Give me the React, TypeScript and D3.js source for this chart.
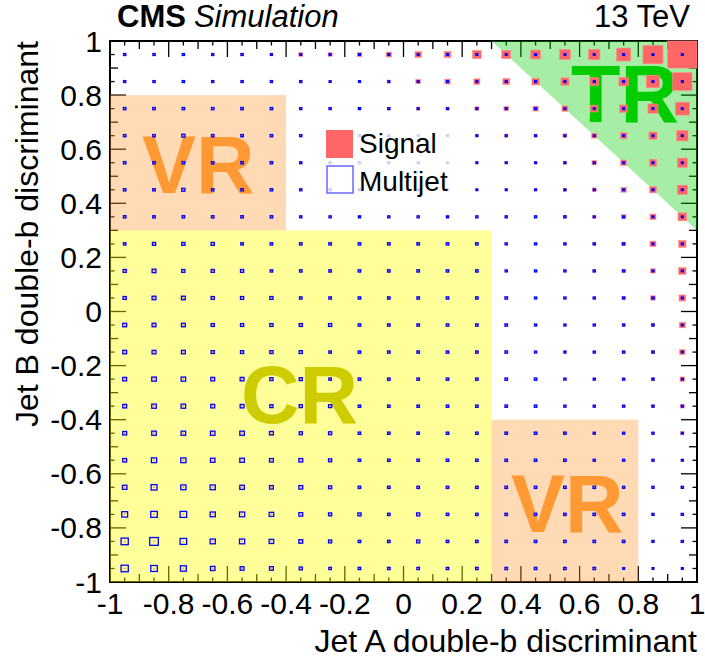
import React from "react";
import * as d3 from "d3";

// Bin centres (20 x 20 bins of width 0.1 between -1 and 1)
const xCenters = [-0.95, -0.85, -0.75, -0.65, -0.55, -0.45, -0.35, -0.25, -0.15, -0.05, 0.05, 0.15, 0.25, 0.35, 0.45, 0.55, 0.65, 0.75, 0.85, 0.95];
// rows listed from top (y = 0.95) to bottom (y = -0.95)
const yCenters = [0.95, 0.85, 0.75, 0.65, 0.55, 0.45, 0.35, 0.25, 0.15, 0.05, -0.05, -0.15, -0.25, -0.35, -0.45, -0.55, -0.65, -0.75, -0.85, -0.95];

const xTickLabels = [-1, -0.8, -0.6, -0.4, -0.2, 0, 0.2, 0.4, 0.6, 0.8, 1];
const yTickLabels = [-1, -0.8, -0.6, -0.4, -0.2, 0, 0.2, 0.4, 0.6, 0.8, 1];

// Signal bin contents (arbitrary units), rows top -> bottom, columns left -> right
const signal = [
  [5, 5, 5, 6, 7, 9, 12, 12, 14, 16, 19, 20, 26, 27, 29, 32, 34, 42, 60, 88],
  [4, 4, 4, 5, 5, 6, 6, 7, 8, 10, 14, 16, 18, 20, 22, 24, 26, 28, 40, 58],
  [3, 3, 3, 3, 4, 4, 4, 5, 5, 6, 10, 10, 12, 14, 16, 18, 22, 24, 30, 42],
  [3, 3, 3, 3, 3, 3, 3, 3, 4, 4, 6, 6, 8, 10, 10, 12, 16, 20, 24, 34],
  [3, 3, 3, 3, 3, 3, 3, 3, 3, 3, 4, 4, 6, 8, 8, 10, 14, 18, 22, 30],
  [3, 3, 3, 3, 3, 3, 3, 3, 3, 3, 4, 4, 5, 6, 8, 10, 12, 16, 20, 30],
  [3, 3, 3, 3, 3, 3, 3, 3, 3, 3, 3, 3, 4, 5, 6, 8, 10, 14, 18, 26],
  [3, 3, 3, 3, 3, 3, 3, 3, 3, 3, 3, 3, 3, 4, 5, 6, 8, 12, 18, 22],
  [3, 3, 3, 3, 3, 3, 3, 3, 3, 3, 3, 3, 3, 3, 4, 5, 8, 10, 14, 22],
  [3, 3, 3, 3, 3, 3, 3, 3, 3, 3, 3, 3, 3, 3, 3, 4, 6, 10, 14, 20],
  [3, 3, 3, 3, 3, 3, 3, 3, 3, 3, 3, 3, 3, 3, 3, 4, 5, 8, 10, 18],
  [3, 3, 3, 3, 3, 3, 3, 3, 3, 3, 3, 3, 3, 3, 3, 3, 5, 8, 10, 16],
  [3, 3, 3, 3, 3, 3, 3, 3, 3, 3, 3, 3, 3, 3, 3, 3, 4, 6, 8, 14],
  [3, 3, 3, 3, 3, 3, 3, 3, 3, 3, 3, 3, 3, 3, 3, 3, 4, 5, 8, 12],
  [3, 3, 3, 3, 3, 3, 3, 3, 3, 3, 3, 3, 3, 3, 3, 3, 3, 4, 6, 10],
  [3, 3, 3, 3, 3, 3, 3, 3, 3, 3, 3, 3, 3, 3, 3, 3, 3, 4, 5, 8],
  [3, 3, 3, 3, 3, 3, 3, 3, 3, 3, 3, 3, 3, 3, 3, 3, 3, 3, 4, 7],
  [3, 3, 3, 3, 3, 3, 3, 3, 3, 3, 3, 3, 3, 3, 3, 3, 3, 3, 4, 6],
  [3, 3, 3, 3, 3, 3, 3, 3, 3, 3, 3, 3, 3, 3, 3, 3, 3, 3, 4, 5],
  [3, 3, 3, 3, 3, 3, 3, 3, 3, 3, 3, 3, 3, 3, 3, 3, 3, 3, 3, 5],
];

// Multijet bin contents (same units), rows top -> bottom
const multijet = [
  [9, 9, 9, 9, 9, 8, 8, 8, 8, 8, 8, 8, 8, 8, 8, 8, 8, 8, 8, 8],
  [9, 9, 9, 9, 9, 9, 9, 8, 8, 8, 8, 8, 8, 8, 8, 8, 8, 8, 8, 8],
  [10, 10, 10, 10, 10, 10, 9, 9, 9, 9, 8, 8, 8, 8, 8, 8, 8, 8, 8, 8],
  [10, 10, 12, 10, 10, 10, 9, 9, 9, 9, 8, 8, 8, 8, 8, 8, 8, 8, 8, 8],
  [10, 10, 10, 10, 10, 10, 9, 9, 9, 9, 8, 8, 8, 8, 8, 8, 8, 8, 8, 8],
  [10, 10, 12, 10, 10, 10, 9, 9, 9, 9, 8, 8, 8, 8, 8, 8, 8, 8, 8, 8],
  [10, 10, 10, 10, 10, 10, 9, 9, 9, 9, 9, 9, 9, 9, 9, 9, 8, 8, 8, 8],
  [10, 12, 12, 12, 10, 10, 10, 10, 10, 10, 10, 10, 10, 9, 9, 9, 9, 9, 8, 8],
  [12, 14, 12, 12, 12, 10, 10, 10, 10, 10, 10, 10, 10, 9, 9, 9, 9, 9, 8, 8],
  [12, 14, 14, 12, 12, 12, 10, 10, 10, 10, 10, 10, 10, 10, 9, 9, 9, 9, 9, 8],
  [14, 14, 14, 12, 12, 12, 12, 12, 10, 10, 10, 10, 10, 10, 9, 9, 9, 9, 9, 8],
  [14, 14, 14, 12, 12, 12, 12, 10, 10, 10, 10, 10, 10, 10, 9, 9, 9, 9, 9, 8],
  [14, 16, 16, 14, 14, 12, 12, 10, 10, 10, 10, 10, 10, 10, 10, 9, 9, 9, 9, 8],
  [14, 16, 16, 14, 14, 12, 12, 12, 10, 10, 10, 10, 10, 10, 10, 9, 9, 9, 9, 8],
  [14, 16, 16, 16, 16, 14, 12, 12, 10, 10, 10, 10, 10, 10, 10, 10, 9, 9, 9, 8],
  [14, 18, 18, 16, 16, 14, 14, 12, 10, 10, 10, 10, 10, 10, 10, 10, 9, 9, 9, 8],
  [16, 20, 18, 18, 16, 14, 14, 12, 10, 10, 10, 10, 10, 10, 10, 10, 10, 9, 9, 9],
  [20, 22, 22, 18, 18, 16, 14, 12, 12, 10, 12, 10, 10, 10, 10, 10, 10, 10, 9, 9],
  [24, 28, 22, 18, 18, 16, 14, 12, 10, 10, 12, 10, 10, 10, 10, 10, 10, 10, 9, 9],
  [24, 22, 20, 16, 14, 14, 12, 10, 10, 10, 10, 10, 10, 10, 10, 10, 10, 8, 8, 8],
];

const FONT = "'Liberation Sans', Arial, Helvetica, sans-serif";

export default function App() {
  const W = 705, H = 666;
  const x = d3.scaleLinear().domain([-1, 1]).range([110, 697]);
  const y = d3.scaleLinear().domain([-1, 1]).range([582, 41]);
  const bw = x(0.1) - x(0);
  const bh = y(0) - y(0.1);
  const vmax = d3.max(signal.flat()) as number;
  const frac = d3.scaleLinear().domain([0, vmax]).range([0, 1]);

  const fmt = (v: number) => (v === 0 ? "0" : String(v));

  // ticks: major 0.2, secondary 0.1, tertiary 0.05
  const tickVals = d3.range(0, 41).map((i) => -1 + i * 0.05);
  const tickLen = (i: number) => (i % 4 === 0 ? 16 : i % 2 === 0 ? 8 : 4.5);

  const MJ_STROKE = 1.3;

  const boxes = (grid: number[][], inset: number) =>
    grid.flatMap((row, r) =>
      row.map((v, c) => {
        const f = frac(v);
        const w = Math.max(bw * f - inset, 0.6), h = Math.max(bh * f - inset, 0.6);
        return { cx: x(xCenters[c]), cy: y(yCenters[r]), w, h, key: `${r}-${c}` };
      })
    );

  const sigBoxes = boxes(signal, 0);
  const mjBoxes = boxes(multijet, 0.8);

  const tri = [
    [x(0.3), y(1)],
    [x(1), y(1)],
    [x(1), y(0.3)],
  ];

  return (
    <svg width={W} height={H} style={{ position: "absolute", left: 0, top: 0, background: "#fff" }} fontFamily={FONT}>
      {/* axes ticks and frame (drawn below the region fills) */}
      <g stroke="#000" strokeWidth={1.3}>
        {tickVals.map((v, i) => (
          <g key={"t" + i}>
            <line x1={x(v)} x2={x(v)} y1={y(-1)} y2={y(-1) - tickLen(i)} />
            <line x1={x(v)} x2={x(v)} y1={y(1)} y2={y(1) + tickLen(i)} />
            <line x1={x(-1)} x2={x(-1) + tickLen(i)} y1={y(v)} y2={y(v)} />
            <line x1={x(1)} x2={x(1) - tickLen(i)} y1={y(v)} y2={y(v)} />
          </g>
        ))}
      </g>
      <rect x={x(-1)} y={y(1)} width={x(1) - x(-1)} height={y(-1) - y(1)} fill="none" stroke="#000" strokeWidth={2} />

      {/* regions */}
      <rect x={x(-1)} y={y(0.3)} width={x(0.3) - x(-1)} height={y(-1) - y(0.3)} fill="#ffff00" fillOpacity={0.4} />
      <rect x={x(-1)} y={y(0.8)} width={x(-0.4) - x(-1)} height={y(0.3) - y(0.8)} fill="#ff9933" fillOpacity={0.36} />
      <rect x={x(0.3)} y={y(-0.4)} width={x(0.8) - x(0.3)} height={y(-1) - y(-0.4)} fill="#ff9933" fillOpacity={0.36} />
      <path d={d3.line()(tri as [number, number][]) + "Z"} fill="#00cc00" fillOpacity={0.35} />

      {/* region labels */}
      <g fontWeight="bold" fontSize={81}>
        <text x={142} y={193} fill="#ff9933">VR</text>
        <text x={511} y={532} fill="#ff9933">VR</text>
        <text x={241} y={423} fill="#cccc00">CR</text>
        <text x={571} y={122} fill="#00cc00">TR</text>
      </g>

      {/* signal boxes */}
      <g fill="#ff6666" stroke="#ff8c8c" strokeWidth={0.6}>
        {sigBoxes.map((b) => (
          <rect key={"s" + b.key} x={b.cx - b.w / 2} y={b.cy - b.h / 2} width={b.w} height={b.h} />
        ))}
      </g>
      {/* multijet boxes */}
      <g fill="none" stroke="#0000ff" strokeWidth={MJ_STROKE}>
        {mjBoxes.map((b) => (
          <rect key={"m" + b.key} x={b.cx - b.w / 2} y={b.cy - b.h / 2} width={b.w} height={b.h} />
        ))}
      </g>

      {/* legend */}
      <rect x={318} y={122} width={144} height={81} fill="#fff" fillOpacity={0.8} />
      <rect x={326} y={130} width={27} height={28} fill="#ff6666" />
      <rect x={327} y={166} width={26} height={27} fill="none" stroke="#0000ff" strokeOpacity={0.6} strokeWidth={1.5} />
      <text x={359} y={153} fontSize={28} fill="#000">Signal</text>
      <text x={359} y={191} fontSize={28} fill="#000">Multijet</text>

      {/* tick labels */}
      <g fontSize={30} fill="#000">
        {xTickLabels.map((v) => (
          <text key={"xl" + v} x={x(v)} y={614} textAnchor="middle">{fmt(v)}</text>
        ))}
        {yTickLabels.map((v) => (
          <text key={"yl" + v} x={102} y={y(v) + 10.5} textAnchor="end">{fmt(v)}</text>
        ))}
      </g>

      {/* axis titles */}
      <text x={697} y={652} fontSize={32} textAnchor="end" fill="#000">Jet A double-b discriminant</text>
      <text transform={`translate(38, 41) rotate(-90)`} fontSize={32} textAnchor="end" fill="#000">Jet B double-b discriminant</text>

      {/* header */}
      <text x={117} y={27} fontSize={31} fill="#000">
        <tspan fontWeight="bold">CMS</tspan>
        <tspan fontStyle="italic" dx={8}>Simulation</tspan>
      </text>
      <text x={690} y={27} fontSize={31} textAnchor="end" fill="#000">13 TeV</text>
    </svg>
  );
}
